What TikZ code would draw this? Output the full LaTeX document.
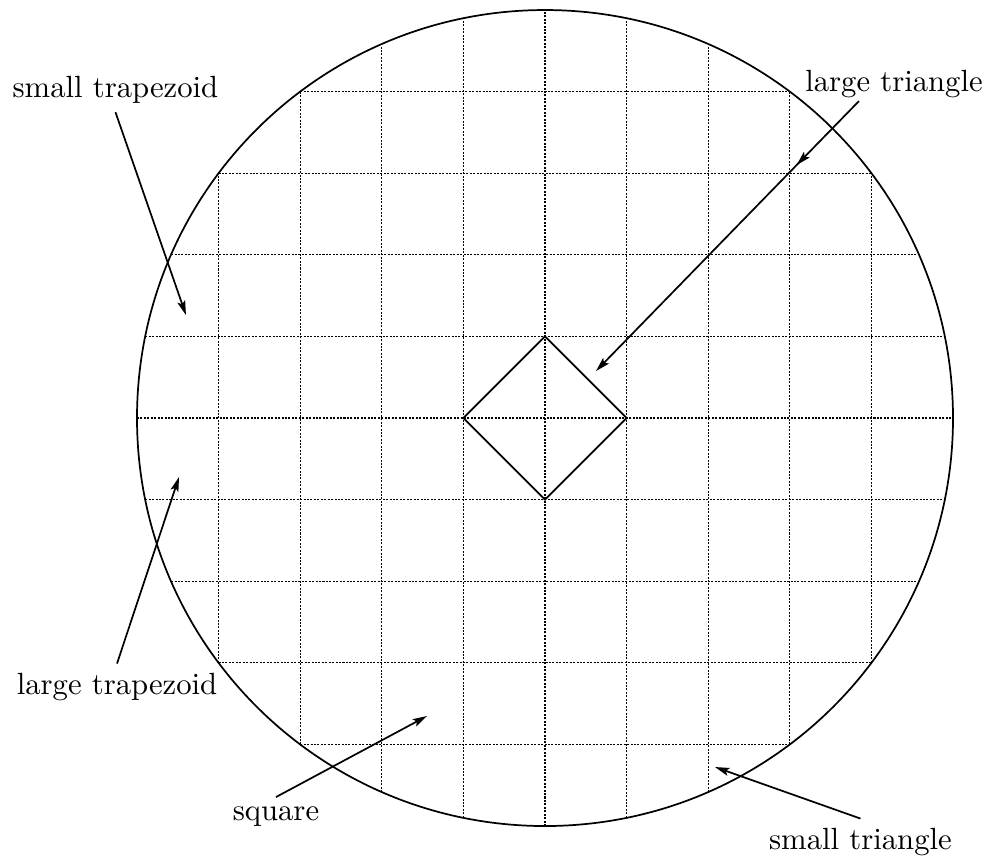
\documentclass[tikz,border=0pt]{standalone}
\usepackage{tikz}
\usetikzlibrary{arrows.meta, positioning, calc, decorations.markings}

\begin{document}
\begin{tikzpicture}[
        x=1cm, y=1cm,
        every node/.style={font=\fontsize{10.7}{13}\selectfont, inner sep=3pt},
        gridline/.style={line width=0.42pt, dash pattern=on 0.7pt off 0.5pt},
        outline/.style={line width=0.6pt},
        pointer/.style={-{Stealth[length=5pt, width=2.8pt, inset=1pt]}, line width=0.6pt}
    ]
        \useasboundingbox (-6.679,-5.429) rectangle (5.490,5.123);

        \foreach \k in {-4,...,4} {
            \draw[gridline] ({-sqrt(25-(\k)*(\k))},\k) -- ({sqrt(25-(\k)*(\k))},\k);
            \draw[gridline] (\k,{-sqrt(25-(\k)*(\k))}) -- (\k,{sqrt(25-(\k)*(\k))});
        }
        \draw[outline] (0,0) circle (5);
        \draw[outline] (0,1) -- (1,0) -- (0,-1) -- (-1,0) -- cycle;

        \node[anchor=base] (strap) at (-5.264,3.934) {small trapezoid};
        \node[anchor=base] (ltrap) at (-5.245,-3.382) {large trapezoid};
        \node[anchor=base, inner sep=1pt] (ltri) at (4.277,4.004) {large triangle};
        \node[anchor=base] (stri) at (3.866,-5.282) {small triangle};
        \node[anchor=base] (sq) at (-3.297,-4.926) {square};

        \coordinate (strap-tip) at (-4.400,1.262);
        \coordinate (ltrap-tip) at (-4.485,-0.723);
        \coordinate (ltri-tip) at (0.625,0.576);
        \coordinate (stri-tip) at (2.083,-4.277);
        \coordinate (sq-tip) at (-1.446,-3.652);

        \draw[pointer] (strap.south) -- (strap-tip);
        \draw[pointer] (ltrap.north) -- (ltrap-tip);
        \draw[pointer, postaction={decorate}, decoration={markings,
            mark=at position 0.237 with {\arrow{Stealth[length=5pt, width=2.8pt, inset=1pt]}}}]
            ($(ltri.south west)!0.31!(ltri.south east)$) -- (ltri-tip);
        \draw[pointer] (stri.north) -- (stri-tip);
        \draw[pointer] (sq.north) -- (sq-tip);
\end{tikzpicture}
\end{document}
